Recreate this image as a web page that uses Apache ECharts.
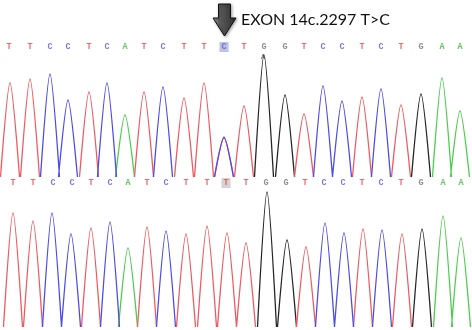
<!DOCTYPE html>
<html>
<head>
<meta charset="utf-8">
<script src="https://cdn.jsdelivr.net/npm/echarts@6/dist/echarts.min.js"></script>
<style>html,body{margin:0;padding:0;background:#fff}#c{width:472px;height:330px}</style>
</head>
<body>
<div id="c"></div>
<script>
// ---- Data ----
const title = 'EXON 14c.2297 T>C';

// Top (patient) trace: base calls and peak positions / intensities
const topCalls = ['T','T','C','C','T','C','A','T','C','T','T','C','T','G','G','T','C','C','T','C','T','G','A','A'];
const topCallX = [9,30,50,68,89,107,125,144,163,184,204,224,244,264,285,304,323,342,362,381,401,421,442,460];
const topSecondCall = ['A'];
const topSecondX = [263];
const topPeakBase = ['T','T','C','C','T','C','A','T','C','T','T','T','C','T','G','G','T','C','C','T','C','T','G','A','A'];
const topPeakX    = [10,30,50,68,89,107,125,144,163,184,204,224,224,244,264,285,304,323,342,362,381,401,421,442,460];
const topPeakH    = [94,98,103,77,85,94,62,85,90,79,94,39,40,71,122,82,63,91,76,80,88,72,83,99,66];

// Bottom (reference) trace
const botCalls = ['T','T','C','C','T','C','A','T','C','T','T','T','T','G','G','T','C','C','T','C','T','G','A','A'];
const botCallX = [13,33,53,72,91,110,128,147,166,186,207,226,246,266,286,305,324,343,362,381,401,421,443,461];
const botPeakBase = ['T','T','C','C','T','C','A','T','C','T','T','T','T','G','G','T','C','C','T','C','T','G','A','A'];
const botPeakX    = [13,33,52,71,91,110,128,147,166,186,207,227,246,267,287,306,325,344,363,382,402,422,443,461];
const botPeakH    = [114,106,114,93,99,105,79,100,96,93,101,94,84,135,87,80,104,94,98,97,93,98,111,89];

const topHighlight = 11; // index of variant call (top)
const botHighlight = 11; // index of variant position (bottom)

// ---- Styling ----
const lineColor = {T:'#ec5b62', C:'#4d4de6', A:'#4fcc4f', G:'#262626'};
const textColor = {T:'#e04848', C:'#5a5ae0', A:'#33c033', G:'#707070'};
const HW = 9.5; // half base width of a peak in trace units

function channelData(bases, xs, hs, ch){
  const d = [];
  for (let i = 0; i < bases.length; i++){
    if (bases[i] !== ch) continue;
    d.push([xs[i]-HW, 0], [xs[i], hs[i]], [xs[i]+HW, 0], [xs[i]+HW, '-']);
  }
  return d;
}

const series = [];
['G','A','T','C'].forEach(ch => {
  series.push({type:'line', xAxisIndex:0, yAxisIndex:0, data: channelData(topPeakBase, topPeakX, topPeakH, ch),
    smooth:0.25, symbol:'none', connectNulls:false, lineStyle:{color:lineColor[ch], width:1.3}, silent:true, animation:false});
  series.push({type:'line', xAxisIndex:1, yAxisIndex:1, data: channelData(botPeakBase, botPeakX, botPeakH, ch),
    smooth:0.25, symbol:'none', connectNulls:false, lineStyle:{color:lineColor[ch], width:1.3}, silent:true, animation:false});
});

function callData(calls, xs, rowY, hi, hiColor){
  return calls.map((b, i) => ({
    value:[xs[i], rowY],
    label:{show:true, formatter:b, color:textColor[b],
      backgroundColor: i === hi ? hiColor : 'transparent',
      padding: i === hi ? [1,2,0,2] : 0}
  }));
}
const letterLabel = {position:'inside', fontFamily:'Liberation Mono', fontWeight:'bold', fontSize:8.5};
series.push({type:'scatter', xAxisIndex:0, yAxisIndex:0, symbolSize:0, silent:true, animation:false,
  label: letterLabel, data: callData(topCalls, topCallX, 130, topHighlight, '#aeb3d8')});
series.push({type:'scatter', xAxisIndex:0, yAxisIndex:0, symbolSize:0, silent:true, animation:false,
  label: Object.assign({}, letterLabel, {fontSize:7, fontWeight:'normal'}),
  data: topSecondCall.map((b,i)=>({value:[topSecondX[i], 120], label:{show:true, formatter:b, color:'#222'}}))});
series.push({type:'scatter', xAxisIndex:1, yAxisIndex:1, symbolSize:0, silent:true, animation:false,
  label: letterLabel, data: callData(botCalls, botCallX, 144, botHighlight, '#c9c9c9')});

const hiddenAxis = {show:false};
const chart = echarts.init(document.getElementById('c'), null, {renderer:'canvas'});
chart.setOption({
  backgroundColor:'#ffffff',
  animation:false,
  grid:[
    {left:0, right:0, top:40, height:137},
    {left:0, right:0, top:176, height:151}
  ],
  xAxis:[
    Object.assign({type:'value', gridIndex:0, min:0, max:472}, hiddenAxis),
    Object.assign({type:'value', gridIndex:1, min:0, max:472}, hiddenAxis)
  ],
  yAxis:[
    Object.assign({type:'value', gridIndex:0, min:0, max:137}, hiddenAxis),
    Object.assign({type:'value', gridIndex:1, min:0, max:151}, hiddenAxis)
  ],
  series: series,
  graphic:[
    {type:'polygon', z:100,
     shape:{points:[[218.5,4],[230.5,4],[230.5,18],[236,18],[224.5,36],[213,18],[218.5,18]]},
     style:{fill:{type:'linear', x:0, y:0, x2:1, y2:0, colorStops:[
        {offset:0, color:'#a8a8a8'},{offset:0.3, color:'#5a5a5a'},{offset:1, color:'#2e2e2e'}]},
        stroke:'#111', lineWidth:1, shadowBlur:3, shadowColor:'rgba(0,0,0,0.35)', shadowOffsetX:1, shadowOffsetY:1}},
    {type:'text', z:100, x:241, y:20,
     style:{text:title, fill:'#111', font:'16px Lato', textVerticalAlign:'middle', verticalAlign:'middle'}}
  ]
});
</script>
</body>
</html>
